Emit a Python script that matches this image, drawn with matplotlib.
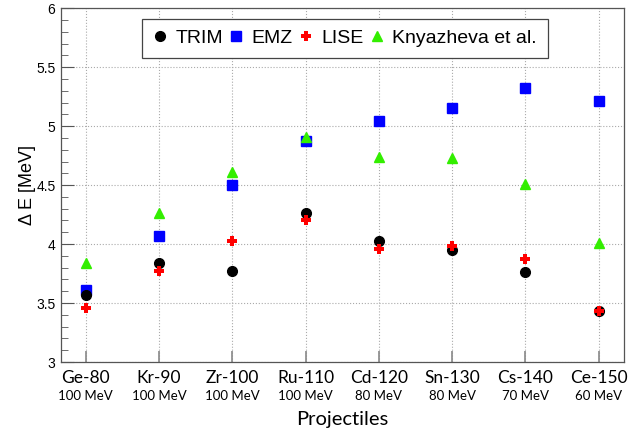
import numpy as np
import matplotlib
matplotlib.use('Agg')
import matplotlib.pyplot as plt
from matplotlib.ticker import MultipleLocator

# data
projectiles = ['Ge-80', 'Kr-90', 'Zr-100', 'Ru-110', 'Cd-120', 'Sn-130', 'Cs-140', 'Ce-150']
energies = ['100 MeV', '100 MeV', '100 MeV', '100 MeV', '80 MeV', '80 MeV', '70 MeV', '60 MeV']
trim = [3.57, 3.84, 3.77, 4.26, 4.03, 3.95, 3.76, 3.43]
emz = [3.61, 4.07, 4.50, 4.87, 5.04, 5.15, 5.32, 5.21]
lise = [3.46, 3.77, 4.03, 4.20, 3.96, 3.98, 3.87, 3.43]
knyazheva = [3.84, 4.26, 4.61, 4.91, 4.74, 4.73, 4.51, 4.01]

plt.rcParams['font.family'] = ['Liberation Sans', 'DejaVu Sans']

fig = plt.figure(figsize=(6.35, 4.32), dpi=100)
ax = fig.add_axes([0.096, 0.162, 0.887, 0.819])

x = np.arange(len(projectiles))

ax.plot(x, emz, 's', color='#0000ff', markersize=7.2, label='EMZ', zorder=3)
ax.plot(x, knyazheva, '^', color='#33ee00', markersize=7.5, label='Knyazheva et al.', zorder=3)
ax.plot(x, trim, 'o', color='black', markersize=7, label='TRIM', zorder=4)
ax.plot(x, lise, 'P', color='#ff0000', markersize=7.5, markeredgewidth=0, label='LISE', zorder=5)

ax.set_xlim(-0.34, len(projectiles) - 1 + 0.35)
ax.set_ylim(3, 6)

# axes styling
for side in ['left', 'right', 'top', 'bottom']:
    ax.spines[side].set_color('#555555')
    ax.spines[side].set_linewidth(0.9)

ax.yaxis.set_minor_locator(MultipleLocator(0.1))
ax.set_yticks([3, 3.5, 4, 4.5, 5, 5.5, 6])
ax.set_yticklabels(['3', '3.5', '4', '4.5', '5', '5.5', '6'], fontsize=10)
ax.tick_params(axis='y', which='major', direction='in', length=9, color='#555555', pad=4)
ax.tick_params(axis='y', which='minor', direction='in', length=5, color='#555555')

ax.set_xticks(x)
ax.set_xticklabels(projectiles, fontsize=12.5, family=['Lato', 'DejaVu Sans'])
ax.tick_params(axis='x', direction='in', length=8, width=1.2, color='#888888', pad=6)

ax.grid(True, which='major', color='#aaaaaa', linestyle=':', linewidth=0.8)

# energy sub-labels
for xi, e in zip(x, energies):
    ax.text(xi, -0.095, e, transform=ax.get_xaxis_transform(), ha='center', va='center',
            fontsize=9.5, family=['Lato', 'DejaVu Sans'])

ax.set_xlabel('Projectiles', fontsize=14.5, family=['Lato', 'DejaVu Sans'], labelpad=18)
ax.set_ylabel('\u0394 E [MeV]', fontsize=13, labelpad=0)

# legend in the order shown in the reference
handles, labels = ax.get_legend_handles_labels()
order = [labels.index(n) for n in ['TRIM', 'EMZ', 'LISE', 'Knyazheva et al.']]
leg = ax.legend([handles[i] for i in order], [labels[i] for i in order],
                ncol=4, loc='upper left', bbox_to_anchor=(0.143, 0.97),
                fontsize=14, frameon=True, fancybox=False, framealpha=1,
                edgecolor='#444444', handletextpad=0.38, columnspacing=0.3,
                handlelength=0.8, borderpad=0.55, borderaxespad=0)
leg.get_frame().set_linewidth(0.9)

fig.savefig('out.png', dpi=100)
